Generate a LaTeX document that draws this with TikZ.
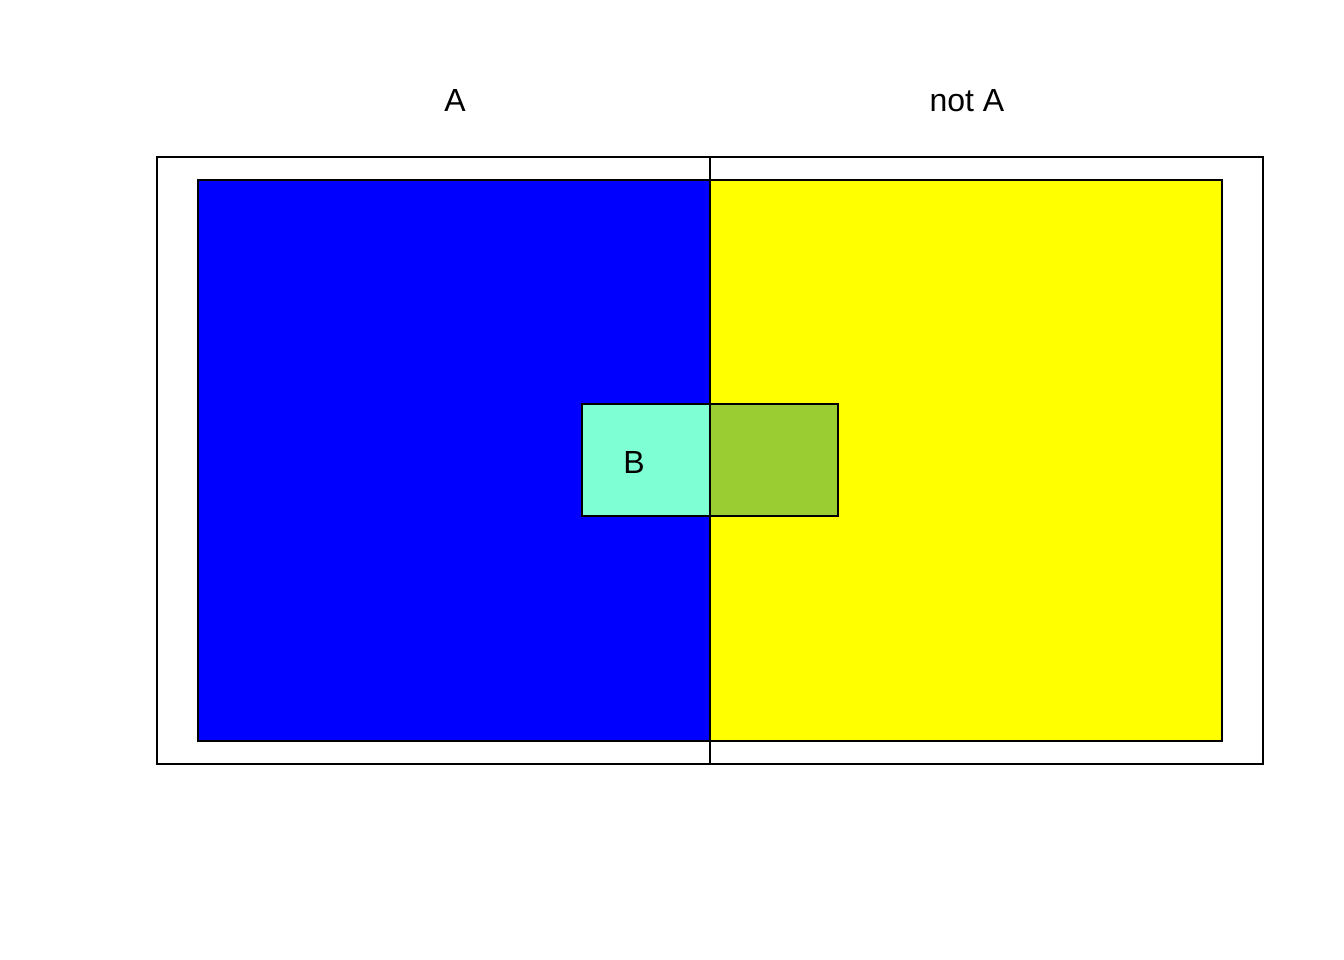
\documentclass[tikz,border=0pt]{standalone}
\usepackage{fontspec}
\setmainfont{Liberation Sans}
\definecolor{aqua}{HTML}{7FFFD4}
\definecolor{ygreen}{HTML}{9ACD32}
\definecolor{pureyellow}{HTML}{FFFF00}
\definecolor{pureblue}{HTML}{0000FF}
\begin{document}
\begin{tikzpicture}[x=1pt,y=-1pt,
  box/.style={draw=black,line width=1.5pt},
  lab/.style={font=\fontsize{32}{38}\selectfont,inner sep=0pt,anchor=base}]
\useasboundingbox[fill=white] (0,0) rectangle (1344,960);
\draw[box] (157,157) rectangle (1263,764);
\draw[box,fill=pureblue] (198,180) rectangle (710,741);
\draw[box,fill=pureyellow] (710,180) rectangle (1222,741);
\draw[box,fill=aqua] (582,404) rectangle (710,516);
\draw[box,fill=ygreen] (710,404) rectangle (838,516);
\draw[box] (710,157) -- (710,764);
\node[lab] (a) at (455,112) {A};
\node[lab] (na) at (967,112) {not A};
\node[lab] (b) at (634,473) {B};
\end{tikzpicture}
\end{document}
